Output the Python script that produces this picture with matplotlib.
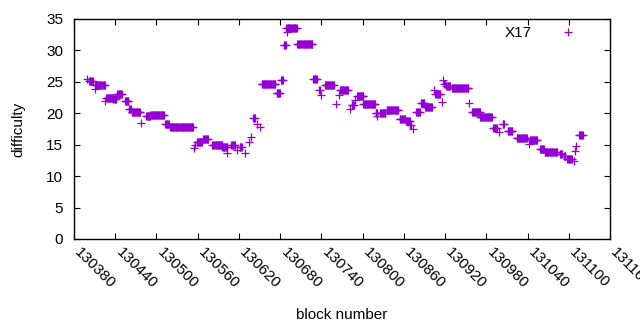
import numpy as np
import matplotlib
matplotlib.use("Agg")
import matplotlib.pyplot as plt
import matplotlib.transforms as mtransforms

plt.rcParams['font.family'] = ['Liberation Sans', 'DejaVu Sans']

# Data, run-length encoded: each run is a span of
# consecutive blocks sharing one difficulty value.
run_start = [130399, 130402, 130410, 130411, 130425, 130427, 130437, 130443, 130454, 130460,
             130464, 130478, 130485, 130491, 130513, 130520, 130555, 130556, 130559, 130568,
             130581, 130596, 130602, 130609, 130617, 130621, 130629, 130634, 130638, 130641,
             130647, 130651, 130653, 130675, 130681, 130685, 130689, 130690, 130705, 130728,
             130737, 130740, 130745, 130761, 130765, 130767, 130782, 130784, 130789, 130792,
             130801, 130819, 130821, 130825, 130835, 130854, 130863, 130869, 130873, 130878,
             130885, 130891, 130904, 130906, 130915, 130917, 130919, 130922, 130930, 130955,
             130959, 130971, 130990, 130998, 131004, 131011, 131024, 131042, 131043, 131058,
             131065, 131079, 131087, 131093, 131098, 131107, 131109, 131111, 131115]
run_end = [130399, 130407, 130410, 130425, 130425, 130437, 130441, 130450, 130459, 130463,
           130476, 130478, 130491, 130511, 130518, 130553, 130555, 130556, 130566, 130575,
           130596, 130603, 130602, 130614, 130617, 130624, 130629, 130634, 130638, 130643,
           130647, 130651, 130673, 130680, 130684, 130688, 130704, 130690, 130727, 130733,
           130738, 130740, 130758, 130761, 130765, 130779, 130782, 130787, 130789, 130801,
           130818, 130821, 130821, 130833, 130852, 130862, 130869, 130870, 130873, 130883,
           130890, 130901, 130904, 130913, 130915, 130917, 130920, 130927, 130954, 130955,
           130971, 130988, 130995, 130998, 131006, 131018, 131039, 131042, 131054, 131064,
           131077, 131083, 131090, 131095, 131104, 131107, 131109, 131111, 131120]
run_diff = [25.5, 25.1, 23.9, 24.5, 21.9, 22.5, 22.3, 23.0, 21.95, 20.75,
            20.15, 18.4, 19.6, 19.7, 18.3, 17.85, 14.4, 14.9, 15.5, 15.85,
            14.95, 14.7, 13.65, 14.95, 14.2, 14.7, 13.75, 15.4, 16.2, 19.2,
            18.25, 17.85, 24.6, 23.15, 25.25, 30.8, 33.5, 32.9, 31.0, 25.4,
            23.75, 22.9, 24.5, 21.45, 22.9, 23.65, 20.7, 21.3, 22.15, 22.7,
            21.4, 20.0, 19.6, 20.05, 20.6, 19.05, 18.85, 18.15, 17.5, 20.2,
            21.6, 21.0, 23.7, 23.0, 21.75, 25.3, 24.7, 24.3, 24.0, 21.6,
            20.15, 19.35, 17.6, 17.05, 18.25, 17.2, 16.0, 15.1, 15.75, 14.25,
            13.85, 13.9, 13.55, 13.15, 12.8, 12.4, 14.0, 14.8, 16.55]

x_ticks = list(range(130380, 131161, 60))
y_ticks = [0, 5, 10, 15, 20, 25, 30, 35]
series_label = "X17"
color = "#9400D3"

blocks = np.concatenate([np.arange(s, e + 1) for s, e in zip(run_start, run_end)])
diffs = np.concatenate([np.full(e - s + 1, d) for s, e, d in zip(run_start, run_end, run_diff)])

fig = plt.figure(figsize=(6.4, 3.3), dpi=100)
ax = fig.add_axes([74 / 640, 1 - 239 / 330, (610 - 74) / 640, (239 - 19) / 330])

ax.plot(blocks, diffs, linestyle='none', marker='+', color=color,
        markersize=6.2, markeredgewidth=0.9, label=series_label)

ax.set_xlim(130380, 131160)
ax.set_ylim(0, 35)
ax.set_xticks(x_ticks)
ax.set_yticks(y_ticks)
ax.set_xticklabels([str(t) for t in x_ticks], rotation=-45, ha='left', va='top',
                   rotation_mode='anchor')
ax.tick_params(direction='in', length=4.5, width=0.8, top=True, right=True,
               labelsize=11, colors='black')
ax.tick_params(axis='x', pad=4.5)
ax.tick_params(axis='y', pad=7.8)
offset = mtransforms.ScaledTranslation(8 / 100, 0, fig.dpi_scale_trans)
for lab in ax.get_xticklabels():
    lab.set_transform(lab.get_transform() + offset)
for sp in ax.spines.values():
    sp.set_linewidth(1.0)

ax.set_xlabel("block number", fontsize=11, labelpad=12)
ax.set_ylabel("difficulty", fontsize=11, labelpad=15)

leg = ax.legend(loc='upper right', bbox_to_anchor=(0.961, 0.9945), frameon=False,
                markerfirst=False, fontsize=11, handlelength=2.0, handletextpad=1.36,
                borderaxespad=0.0)

fig.savefig("out.png", dpi=100)
